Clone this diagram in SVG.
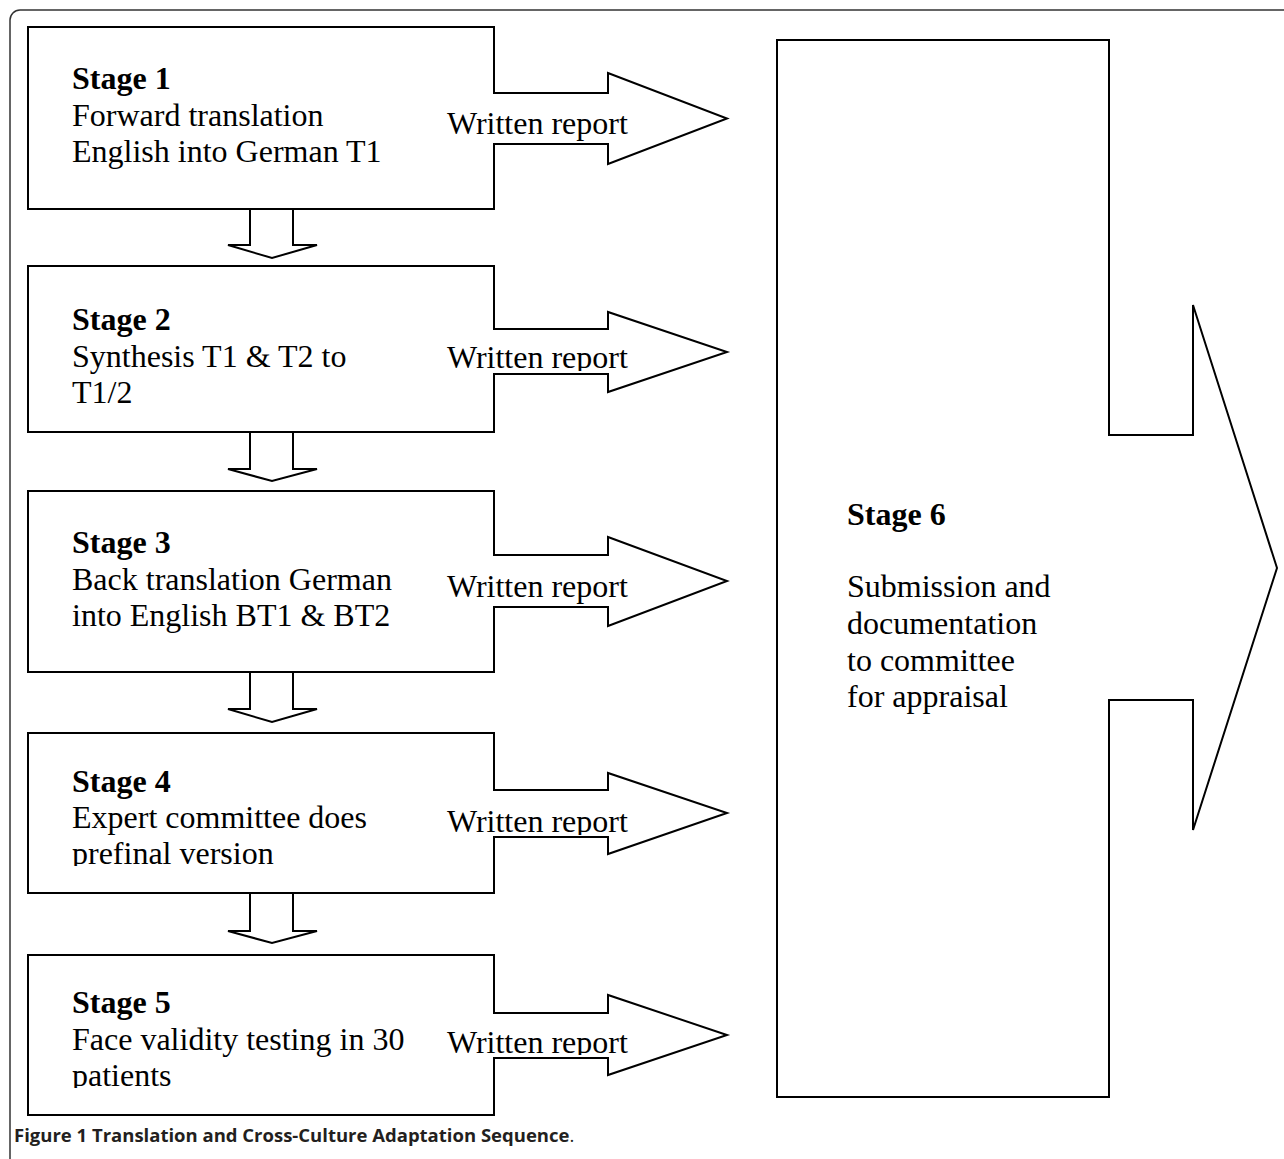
<svg xmlns="http://www.w3.org/2000/svg" width="1284" height="1159" viewBox="0 0 1284 1159">
<style>
.frame{fill:none;stroke:#333;stroke-width:1.5}
.shape{fill:#fff;stroke:#000;stroke-width:2;stroke-linejoin:miter}
.t{font-family:"Liberation Serif","Times New Roman",serif;font-size:32px;fill:#000}
.b{font-weight:bold}
.cap{font-family:"Open Sans","Liberation Sans",sans-serif;font-size:18.5px;font-weight:bold;fill:#231f20}
</style>
<defs>
<clipPath id="c2"><rect x="0" y="0" width="1284" height="371"/></clipPath>
<clipPath id="c4a"><rect x="0" y="0" width="1284" height="835"/></clipPath>
<clipPath id="c4b"><rect x="0" y="0" width="1284" height="866"/></clipPath>
<clipPath id="c5a"><rect x="0" y="0" width="1284" height="1055"/></clipPath>
<clipPath id="c5b"><rect x="0" y="0" width="1284" height="1088"/></clipPath>
</defs>
<rect class="frame" x="10" y="10" width="1300" height="1170" rx="10" ry="10"/>

<g id="connectors">
<path class="shape" d="M250,209 V245 H228 L272,258 L317,245 H293 V209"/>
<path class="shape" d="M250,432 V469 H228 L272,481 L317,469 H293 V432"/>
<path class="shape" d="M250,672 V709 H228 L272,722 L317,709 H293 V672"/>
<path class="shape" d="M250,893 V931 H228 L272,943 L317,931 H293 V893"/>
</g>

<g id="stage1">
<path class="shape" d="M28,27 H494 V93 H608 V73 L727,118.5 L608,164 V144 H494 V209 H28 Z"/>
<text class="t b" x="72" y="89">Stage 1</text>
<text class="t" x="72" y="126">Forward translation</text>
<text class="t" x="72" y="162">English into German T1</text>
<text class="t" x="447" y="134">Written report</text>
</g>

<g id="stage2">
<path class="shape" d="M28,266 H494 V329 H608 V312 L727,352 L608,392 V374 H494 V432 H28 Z"/>
<text class="t b" x="72" y="330">Stage 2</text>
<text class="t" x="72" y="367">Synthesis T1 &amp; T2 to</text>
<text class="t" x="72" y="403">T1/2</text>
<text class="t" x="447" y="368" clip-path="url(#c2)">Written report</text>
</g>

<g id="stage3">
<path class="shape" d="M28,491 H494 V555 H608 V537 L727,581 L608,626 V607 H494 V672 H28 Z"/>
<text class="t b" x="72" y="553">Stage 3</text>
<text class="t" x="72" y="590">Back translation German</text>
<text class="t" x="72" y="626">into English BT1 &amp; BT2</text>
<text class="t" x="447" y="597">Written report</text>
</g>

<g id="stage4">
<path class="shape" d="M28,733 H494 V790 H608 V773 L727,813 L608,854 V837 H494 V893 H28 Z"/>
<text class="t b" x="72" y="792">Stage 4</text>
<text class="t" x="72" y="828">Expert committee does</text>
<text class="t" x="72" y="864" clip-path="url(#c4b)">prefinal version</text>
<text class="t" x="447" y="832" clip-path="url(#c4a)">Written report</text>
</g>

<g id="stage5">
<path class="shape" d="M28,955 H494 V1013 H608 V995 L727,1035 L608,1075 V1058 H494 V1115 H28 Z"/>
<text class="t b" x="72" y="1013">Stage 5</text>
<text class="t" x="72" y="1050">Face validity testing in 30</text>
<text class="t" x="72" y="1086" clip-path="url(#c5b)">patients</text>
<text class="t" x="447" y="1053" clip-path="url(#c5a)">Written report</text>
</g>

<g id="stage6">
<path class="shape" d="M777,40 H1109 V435 H1193 V305 L1277,568 L1193,830 V700 H1109 V1097 H777 Z"/>
<text class="t b" x="847" y="525">Stage 6</text>
<text class="t" x="847" y="597">Submission and</text>
<text class="t" x="847" y="634">documentation</text>
<text class="t" x="847" y="671">to committee</text>
<text class="t" x="847" y="707">for appraisal</text>
</g>

<text class="cap" x="14" y="1142">Figure 1 Translation and Cross-Culture Adaptation Sequence<tspan font-weight="normal">.</tspan></text>
</svg>
